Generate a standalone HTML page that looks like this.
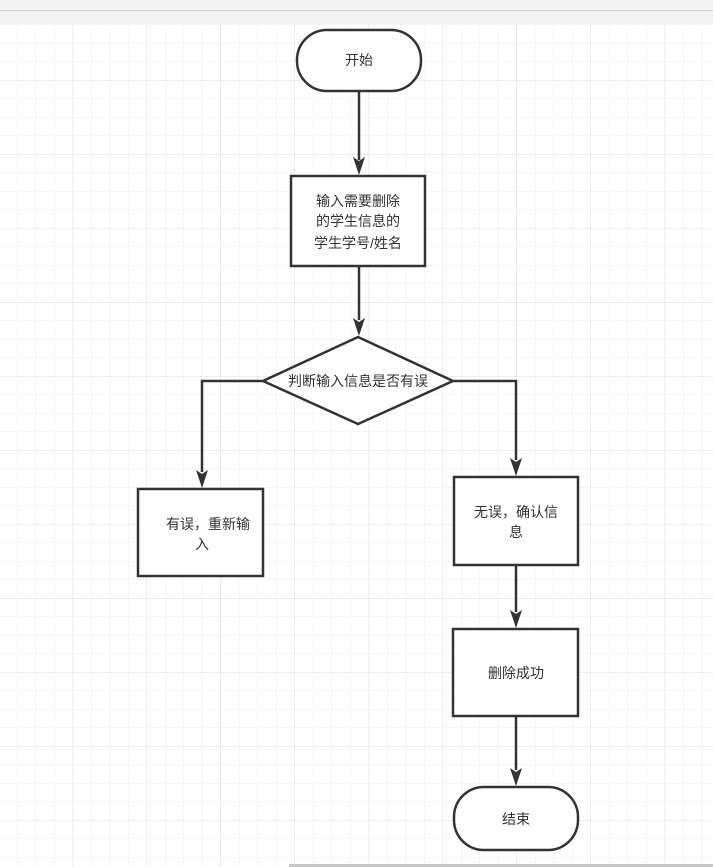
<!DOCTYPE html>
<html><head><meta charset="utf-8"><style>
body{margin:0;width:713px;height:867px;overflow:hidden;background:#fff}
svg{display:block}
text{font-family:"Liberation Sans","Noto Sans CJK SC",sans-serif;font-size:14px;fill:#333;text-anchor:middle}
</style></head><body>
<svg width="713" height="867" viewBox="0 0 713 867">
<defs>
<pattern id="g" x="-1" y="6.5" width="18.5" height="18.5" patternUnits="userSpaceOnUse">
<path d="M18.5 0V18.5M0 18.5H18.5" stroke="#ececec" stroke-width="1" fill="none"/>
</pattern>
<pattern id="G" x="-1" y="6.5" width="74" height="74" patternUnits="userSpaceOnUse">
<path d="M74 0V74M0 74H74" stroke="#dedede" stroke-width="1" fill="none"/>
</pattern>
</defs>
<rect x="0" y="25" width="713" height="842" fill="url(#g)"/>
<rect x="0" y="25" width="713" height="842" fill="url(#G)"/>
<rect x="0" y="0" width="713" height="10" fill="#f3f3f3"/>
<rect x="0" y="10" width="713" height="1" fill="#cfcfcf"/>
<rect x="0" y="11" width="713" height="14" fill="#f5f5f5"/>
<rect x="289" y="864" width="424" height="3" fill="#c8c8c8"/>
<g stroke="#333" stroke-width="2.5" fill="#fff">
<rect x="297" y="30" width="124" height="61" rx="30"/>
<rect x="291" y="176" width="134" height="90"/>
<polygon points="358,337 453,381 358,424 263,381"/>
<rect x="138" y="489" width="125" height="87"/>
<rect x="454" y="477" width="124" height="88"/>
<rect x="453" y="629" width="125" height="87"/>
<rect x="454" y="787" width="124" height="63" rx="30"/>
</g>
<g stroke="#333" stroke-width="2.5" fill="none">
<path d="M359 91V160"/>
<path d="M359 266V320"/>
<path d="M263 381H202V472"/>
<path d="M453 381H516V460"/>
<path d="M516 565V612"/>
<path d="M516 716V770"/>
</g>
<g fill="#333">
<polygon points="353,157 359,161 365,157 359,175"/>
<polygon points="353,318 359,322 365,318 359,336"/>
<polygon points="196,470 202,474 208,470 202,488"/>
<polygon points="510,458 516,462 522,458 516,476"/>
<polygon points="510,610 516,614 522,610 516,628"/>
<polygon points="510,768 516,772 522,768 516,786"/>
</g>
<text x="359" y="65">开始</text>
<text x="358" y="206">输入需要删除</text>
<text x="358" y="226">的学生信息的</text>
<text x="358" y="248">学生学号/姓名</text>
<text x="358" y="386">判断输入信息是否有误</text>
<text x="208" y="529">有误，重新输</text>
<text x="202" y="549">入</text>
<text x="516" y="517">无误，确认信</text>
<text x="516" y="537">息</text>
<text x="516" y="678">删除成功</text>
<text x="516" y="824">结束</text>
</svg>
</body></html>
